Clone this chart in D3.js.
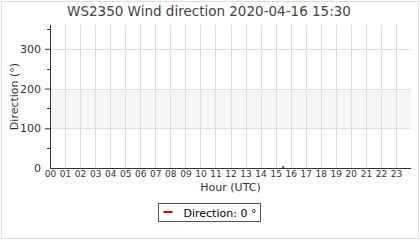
<!DOCTYPE html>
<html>
<head>
<meta charset="utf-8">
<script src="https://cdn.jsdelivr.net/npm/d3@7"></script>
<style>
  body { margin: 0; background: #fff; }
  svg text { font-family: "DejaVu Sans", sans-serif; }
</style>
</head>
<body>
<script>
// chart data
var title = "WS2350 Wind direction 2020-04-16 15:30";
var hourLabels = ["00","01","02","03","04","05","06","07","08","09","10","11",
                  "12","13","14","15","16","17","18","19","20","21","22","23"];
var yMajorTicks = [0, 100, 200, 300];
var yMinorTicks = [50, 150, 250, 350];
var band = [100, 200];
var obsHours = [15.5];
var obsDirection = [0];
var legendLabel = "Direction: 0 °";

var svgWidth = 420;
var svgHeight = 240;

var margin = { top: 25, right: 9, bottom: 72, left: 50 };
var width = svgWidth - margin.left - margin.right;
var height = svgHeight - margin.top - margin.bottom;

var svg = d3.select("body")
  .append("svg")
  .attr("width", svgWidth)
  .attr("height", svgHeight);

// outer frame
svg.append("rect")
  .attr("x", 1.5)
  .attr("y", 1.5)
  .attr("width", svgWidth - 3)
  .attr("height", svgHeight - 3)
  .attr("fill", "#fff")
  .attr("stroke", "#ddd");

svg.append("text")
  .attr("x", 209)
  .attr("y", 16)
  .attr("text-anchor", "middle")
  .attr("font-size", "13.5px")
  .attr("fill", "#444")
  .text(title);

var chartGroup = svg.append("g")
  .attr("transform", `translate(${margin.left}, ${margin.top})`);

var xScale = d3.scaleLinear().domain([0, 24]).range([0, width]);
var yScale = d3.scaleLinear().domain([0, 360]).range([height, 0]);

// shaded band
chartGroup.append("rect")
  .attr("x", 0)
  .attr("y", yScale(band[1]))
  .attr("width", width)
  .attr("height", yScale(band[0]) - yScale(band[1]))
  .attr("fill", "#f5f5f5");

// grid lines
chartGroup.append("g")
  .selectAll("line")
  .data(hourLabels.slice(1))
  .enter().append("line")
  .attr("x1", (d, i) => Math.round(xScale(i + 1)) + 0.5)
  .attr("x2", (d, i) => Math.round(xScale(i + 1)) + 0.5)
  .attr("y1", 0)
  .attr("y2", height)
  .attr("stroke", "#ddd");

chartGroup.append("g")
  .selectAll("line")
  .data(yMajorTicks.slice(1))
  .enter().append("line")
  .attr("x1", 0)
  .attr("x2", width)
  .attr("y1", d => Math.round(yScale(d)) + 0.5)
  .attr("y2", d => Math.round(yScale(d)) + 0.5)
  .attr("stroke", "#ddd");

// series
chartGroup.selectAll("circle.obs")
  .data(obsHours)
  .enter().append("circle")
  .attr("class", "obs")
  .attr("cx", d => xScale(d))
  .attr("cy", (d, i) => yScale(obsDirection[i]) - 1)
  .attr("r", 1.1)
  .attr("fill", "#e00");

// left axis
var leftAxis = d3.axisLeft(yScale).tickValues(yMajorTicks).tickSize(5).tickPadding(4);
var yAxis = chartGroup.append("g").call(leftAxis);
yAxis.select(".domain").attr("stroke", "#333").attr("d", `M0.5,0V${height}`);
yAxis.selectAll(".tick line").attr("stroke", "#333");
yAxis.selectAll(".tick text").attr("font-size", "11px").attr("fill", "#333")
  .attr("font-family", "DejaVu Sans");
yAxis.selectAll(".tick").filter(d => d === 0).select("line").remove();

chartGroup.append("g")
  .selectAll("line")
  .data(yMinorTicks)
  .enter().append("line")
  .attr("x1", -3)
  .attr("x2", 0)
  .attr("y1", d => Math.round(yScale(d)) + 0.5)
  .attr("y2", d => Math.round(yScale(d)) + 0.5)
  .attr("stroke", "#333");

// bottom axis
var bottomAxis = d3.axisBottom(xScale)
  .tickValues(d3.range(hourLabels.length))
  .tickFormat((d, i) => hourLabels[i])
  .tickSize(0)
  .tickPadding(3);
var xAxis = chartGroup.append("g")
  .attr("transform", `translate(0, ${height})`)
  .call(bottomAxis);
xAxis.select(".domain").attr("stroke", "#333").attr("d", `M0,0.5H${width}`);
xAxis.selectAll(".tick text").attr("font-size", "9px").attr("fill", "#333")
  .attr("font-family", "DejaVu Sans");

// axis titles
chartGroup.append("text")
  .attr("x", width / 2)
  .attr("y", height + 23)
  .attr("text-anchor", "middle")
  .attr("font-size", "11px")
  .attr("fill", "#333")
  .text("Hour (UTC)");

chartGroup.append("text")
  .attr("transform", "rotate(-90)")
  .attr("x", -(yScale(180)))
  .attr("y", -32)
  .attr("text-anchor", "middle")
  .attr("font-size", "11px")
  .attr("fill", "#333")
  .text("Direction (°)");

// legend
var legend = svg.append("g").attr("transform", "translate(158.5, 203.5)");
legend.append("rect")
  .attr("width", 102)
  .attr("height", 18)
  .attr("fill", "#fff")
  .attr("stroke", "#555");
legend.append("line")
  .attr("x1", 5)
  .attr("x2", 14)
  .attr("y1", 8.5)
  .attr("y2", 8.5)
  .attr("stroke", "#e00")
  .attr("stroke-width", 2);
legend.append("text")
  .attr("x", 25)
  .attr("y", 13)
  .attr("font-size", "11px")
  .attr("fill", "#000")
  .text(legendLabel);
</script>
</body>
</html>
